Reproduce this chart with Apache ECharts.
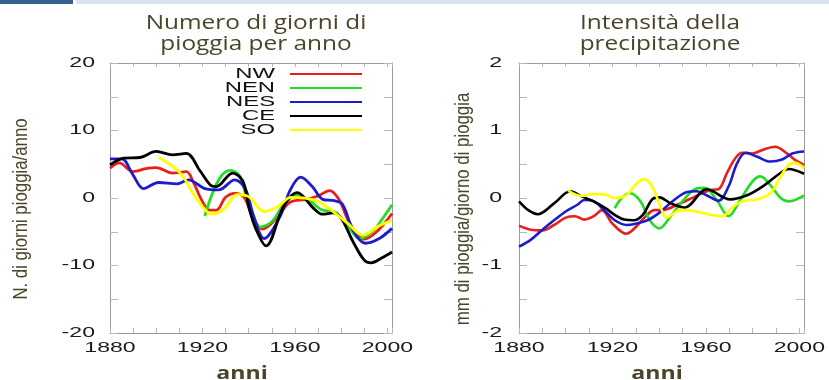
<!DOCTYPE html>
<html><head><meta charset="utf-8">
<script src="https://cdn.jsdelivr.net/npm/echarts@6/dist/echarts.min.js"></script>
<style>html,body{margin:0;padding:0;background:#fff}#c{width:829px;height:380px}</style>
</head><body><div id="c"></div>
<script>
// Horizontal stretch for texts whose font list carries an "sxNNN" marker (the original figure is stretched)
(function(){
  var P = CanvasRenderingContext2D.prototype, orig = P.fillText;
  P.fillText = function(t, x, y, w){
    var m = /sx(\d+)/.exec(this.font);
    if (!m) return w === undefined ? orig.call(this, t, x, y) : orig.call(this, t, x, y, w);
    var s = +m[1] / 100;
    this.save(); this.translate(x, y); this.scale(s, 1); orig.call(this, t, 0, 0); this.restore();
  };
})();

// ---------- DATA ----------
const seriesNames = ['NW', 'NEN', 'NES', 'CE', 'SO'];
const seriesColors = ['#e8201c', '#22dd22', '#1c1ccc', '#000000', '#ffff00'];
const xTicksLabelled = [1880, 1920, 1960, 2000];

// Left: Numero di giorni di pioggia per anno  [anno, valore]
const giorniNW = [[1880,4.4],[1884,5.2],[1890,3.9],[1896,4.4],[1900,4.5],[1907,3.7],[1913,3.9],[1916,2.4],[1919.5,-0.2],[1923,-1.8],[1926,-1.8],[1930,0.1],[1934,0.7],[1938,0.1],[1942,-3.0],[1946,-4.6],[1952,-3.0],[1958,-0.6],[1965,-0.2],[1970,0.3],[1975,1.1],[1979,-0.2],[1983,-3.3],[1987,-5.4],[1990,-6.1],[1996,-4.8],[2002,-2.3]];
const giorniNEN = [[1921,-2.7],[1924,0.4],[1928,3.2],[1932,4.1],[1936,3.3],[1940,-1.0],[1945,-4.3],[1950,-3.5],[1956,-0.6],[1961,0.4],[1966,-0.3],[1972,-1.8],[1977,-2.0],[1983,-4.2],[1988,-6.0],[1994,-4.8],[1998,-3.0],[2002,-1.0]];
const giorniNES = [[1880,5.8],[1885,5.8],[1890,3.4],[1894.5,1.4],[1901,2.3],[1909,2.1],[1914,2.7],[1921,1.4],[1927,1.2],[1934,2.7],[1938.5,1.4],[1942,-2.5],[1946.7,-6.0],[1953.5,-2.8],[1958,1.2],[1962.5,3.1],[1967.5,1.7],[1972,-0.2],[1977,-0.4],[1980.5,-0.9],[1985.5,-5.0],[1990.5,-6.7],[1996.5,-6.0],[2002,-4.5]];
const giorniCE = [[1880,4.9],[1886,5.9],[1893,6.0],[1900,6.9],[1907,6.4],[1913,6.6],[1919,4.0],[1923.5,1.9],[1926,1.7],[1933,3.7],[1937.5,2.5],[1940,-1.3],[1943,-4.5],[1947.5,-7.1],[1955,-1.3],[1961,0.8],[1968,-1.5],[1972,-2.4],[1976.5,-2.2],[1980,-3.0],[1985.5,-6.7],[1990,-9.2],[1993,-9.6],[1997.5,-8.9],[2002,-8.0]];
const giorniSO = [[1901,6.0],[1907.5,4.6],[1912,3.0],[1915.5,0.9],[1919,-0.8],[1924,-2.4],[1929,-1.7],[1935,0.5],[1940,0.2],[1946.7,-2.0],[1952.5,-1.3],[1958.3,0.1],[1964,0.0],[1970,-0.5],[1975.7,-1.8],[1983,-3.8],[1989.4,-5.5],[1996,-4.2],[2002,-3.3]];

// Right: Intensità della precipitazione  [anno, mm/giorno]
const intensNW = [[1880,-0.41],[1885,-0.47],[1890,-0.48],[1895,-0.40],[1900,-0.29],[1904,-0.27],[1908,-0.32],[1912,-0.27],[1915.5,-0.18],[1920,-0.38],[1926,-0.53],[1930,-0.43],[1934,-0.28],[1938,-0.18],[1941,-0.18],[1949,-0.08],[1954.7,0.01],[1962,0.12],[1965.4,0.13],[1969,0.37],[1972.6,0.59],[1975.5,0.67],[1980,0.66],[1984.7,0.72],[1989.7,0.76],[1994.7,0.66],[1998.3,0.56],[2002,0.49]];
const intensNEN = [[1921,-0.15],[1924,0.0],[1927.6,0.07],[1932,-0.05],[1936,-0.33],[1940,-0.45],[1944.7,-0.28],[1950.4,-0.03],[1956,0.14],[1959.6,0.15],[1964.6,-0.03],[1969.7,-0.27],[1974.7,-0.03],[1979.8,0.24],[1983.3,0.32],[1987.6,0.19],[1992,0.0],[1995.4,-0.05],[2002,0.04]];
const intensNES = [[1880,-0.72],[1885,-0.62],[1890,-0.47],[1895,-0.33],[1900,-0.20],[1905,-0.10],[1908,-0.03],[1912,-0.05],[1917,-0.20],[1921,-0.33],[1926,-0.40],[1930,-0.38],[1935,-0.33],[1940,-0.22],[1946,-0.04],[1952,0.09],[1956,0.10],[1960.3,0.04],[1965.4,-0.04],[1969.7,0.17],[1973.3,0.51],[1977,0.67],[1982,0.61],[1987.6,0.54],[1992.6,0.57],[1997,0.66],[2002,0.69]];
const intensCE = [[1880,-0.05],[1884,-0.18],[1888,-0.24],[1895,-0.08],[1902,0.10],[1907,0.02],[1912,-0.05],[1917,-0.15],[1921,-0.25],[1925,-0.32],[1929,-0.33],[1933,-0.25],[1937,-0.02],[1940,0.01],[1945,-0.08],[1951,-0.14],[1960.3,0.13],[1970.4,-0.02],[1977.6,0.04],[1984.7,0.18],[1991.9,0.37],[1995.4,0.43],[2002,0.36]];
const intensSO = [[1901,0.11],[1907,0.03],[1912,0.06],[1917,0.05],[1921,0.0],[1926,0.04],[1929.7,0.19],[1933.3,0.28],[1937,0.17],[1941,-0.17],[1943,-0.29],[1949,-0.18],[1956,-0.20],[1962,-0.25],[1967,-0.27],[1971,-0.15],[1975.5,-0.05],[1982,-0.02],[1987.6,0.07],[1992,0.32],[1995.4,0.49],[1998.3,0.52],[2002,0.44]];

const giorniData = [giorniNW, giorniNEN, giorniNES, giorniCE, giorniSO];
const intensData = [intensNW, intensNEN, intensNES, intensCE, intensSO];

// ---------- STYLE ----------
const olive = '#4a4528';
const tickFont = "'Liberation Sans', sx165";
const axisGray = '#9a9a9a', tickGray = '#b8b8b8';

function xAxisDef(gi, pos, gapPad) {
  const bottom = pos === 'bottom';
  return {
    type: 'value', gridIndex: gi, position: pos, min: 1880, max: 2002, interval: 10,
    axisLine: { show: true, onZero: false, lineStyle: { color: axisGray, width: 1 } },
    axisTick: { show: true, inside: true, length: bottom ? 5 : 4, lineStyle: { color: tickGray } },
    splitLine: { show: false },
    axisLabel: bottom ? {
      show: true, margin: 8, color: '#1a1a1a', fontSize: 14, fontFamily: tickFont,
      formatter: v => xTicksLabelled.indexOf(v) >= 0 ? String(v) : ''
    } : { show: false },
    name: bottom ? 'anni' : '', nameLocation: 'middle', nameGap: 33,
    nameTextStyle: { color: olive, fontSize: 17, fontWeight: 'bold', fontFamily: "'Open Sans', sx136", padding: [0, gapPad, 0, 0] }
  };
}
function yAxisDef(gi, pos, min, max, interval, labelStep, margin, name, nameGap) {
  const left = pos === 'left';
  return {
    type: 'value', gridIndex: gi, position: pos, min: min, max: max, interval: interval,
    axisLine: { show: true, onZero: false, lineStyle: { color: axisGray, width: 1 } },
    axisTick: { show: true, inside: true, length: 8, lineStyle: { color: tickGray } },
    splitLine: { show: false },
    axisLabel: left ? {
      show: true, margin: margin, color: '#1a1a1a', fontSize: 14, fontFamily: tickFont,
      formatter: v => (Math.abs(v / labelStep - Math.round(v / labelStep)) < 1e-9) ? String(v) : ''
    } : { show: false },
    name: left ? name : '', nameLocation: 'middle', nameGap: nameGap,
    nameTextStyle: { color: olive, fontSize: 21, fontFamily: "'Liberation Sans', sx080", padding: [0, 22, 0, 0] }
  };
}

const series = [];
seriesNames.forEach((n, i) => {
  series.push({ name: n, type: 'line', xAxisIndex: 0, yAxisIndex: 0, data: giorniData[i], smooth: 0.35,
    showSymbol: false, symbol: 'none', color: seriesColors[i], lineStyle: { width: 2.8, color: seriesColors[i] }, z: 2 + i });
});
seriesNames.forEach((n, i) => {
  series.push({ name: n, type: 'line', xAxisIndex: 2, yAxisIndex: 2, data: intensData[i], smooth: 0.35,
    showSymbol: false, symbol: 'none', color: seriesColors[i], lineStyle: { width: 2.6, color: seriesColors[i] }, z: 2 + i });
});

const chart = echarts.init(document.getElementById('c'), null, { renderer: 'canvas' });
chart.setOption({
  backgroundColor: '#ffffff',
  animation: false,
  title: [
    { text: 'Numero di giorni di\npioggia per anno', left: 256, top: 13, textAlign: 'center', padding: 0,
      textStyle: { color: olive, fontSize: 20, fontWeight: 'normal', fontFamily: "'Open Sans', sx122", lineHeight: 21 } },
    { text: 'Intensità della\nprecipitazione', left: 660, top: 13, textAlign: 'center', padding: 0,
      textStyle: { color: olive, fontSize: 20, fontWeight: 'normal', fontFamily: "'Open Sans', sx122", lineHeight: 21 } }
  ],
  legend: {
    data: seriesNames, orient: 'vertical', align: 'right', right: 467, top: 67, padding: 0,
    itemWidth: 72, itemHeight: 2, itemGap: 0, icon: 'rect', selectedMode: false,
    textStyle: { color: '#111', fontSize: 14, fontFamily: "'Liberation Sans', sx170", lineHeight: 12, padding: [0, 10, 0, 0] }
  },
  grid: [
    { left: 110, top: 63, width: 282, height: 270, containLabel: false, outerBoundsMode: 'none' },
    { left: 519, top: 63, width: 285, height: 270, containLabel: false, outerBoundsMode: 'none' }
  ],
  xAxis: [ xAxisDef(0, 'bottom', 18), xAxisDef(0, 'top', 0), xAxisDef(1, 'bottom', 9), xAxisDef(1, 'top', 0) ],
  yAxis: [
    yAxisDef(0, 'left', -20, 20, 5, 10, 15, 'N. di giorni pioggia/anno', 78),
    yAxisDef(0, 'right', -20, 20, 5, 10, 15, '', 0),
    yAxisDef(1, 'left', -2, 2, 0.5, 1, 17, 'mm di pioggia/giorno di pioggia', 45),
    yAxisDef(1, 'right', -2, 2, 0.5, 1, 17, '', 0)
  ],
  graphic: [
    { type: 'rect', shape: { x: 0, y: 0, width: 73, height: 4 }, style: { fill: '#345f8e' }, silent: true },
    { type: 'rect', shape: { x: 76, y: 0, width: 753, height: 4 }, style: { fill: '#dbe5f1' }, silent: true }
  ],
  series: series
});
</script></body></html>
